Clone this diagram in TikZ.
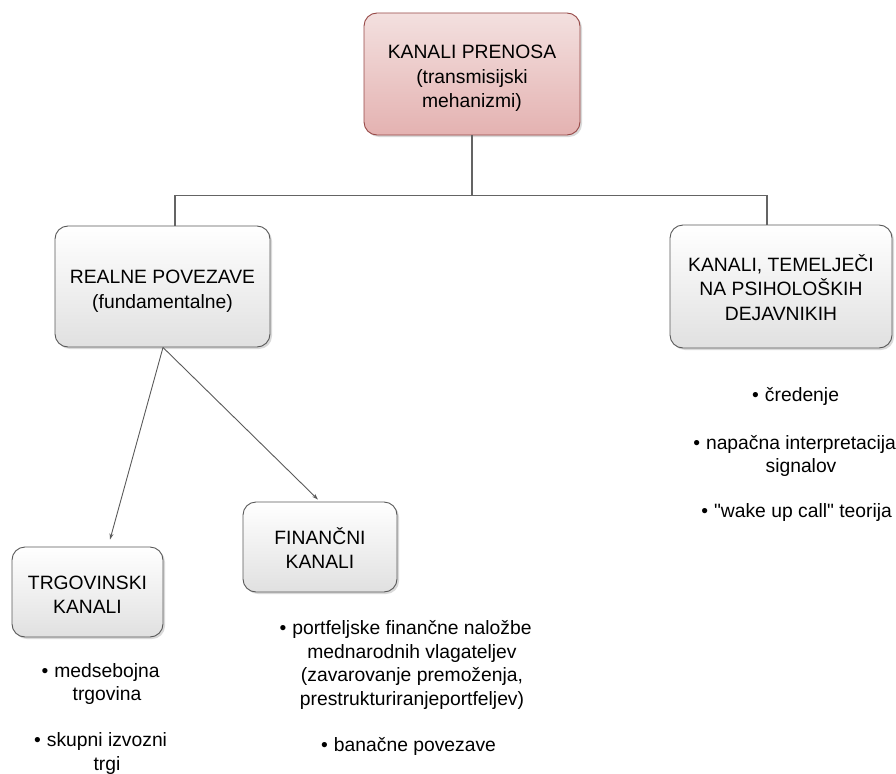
\documentclass[tikz,border=0pt]{standalone}
\usepackage{fontspec}
\setmainfont{Liberation Sans}
\usetikzlibrary{shadows,arrows.meta}
\definecolor{boxline}{RGB}{88,88,88}
\definecolor{topline}{RGB}{150,72,70}
\definecolor{toptop}{RGB}{243,224,223}
\definecolor{topbot}{RGB}{228,178,177}
\definecolor{conncol}{RGB}{100,100,100}
\newcommand\boxfont{\fontsize{19.3}{24.5}\selectfont}
\newcommand\itemfont{\fontsize{19.3}{23.5}\selectfont}
\newcommand\bul{\llap{\textbullet\hspace{6pt}}}
\newcommand\btext[1]{\raisebox{-4.5pt}[\height][\depth]{\begin{tabular}{@{}c@{}}#1\end{tabular}}}
\tikzset{
  basebox/.style={line width=0.9pt, rounded corners=13pt, align=center, font=\boxfont, inner sep=0pt,
    drop shadow={shadow xshift=2pt, shadow yshift=-2pt, opacity=0.3, fill=gray}},
  graybox/.style={basebox, draw=boxline, top color=white, bottom color=gray!24},
  pinkbox/.style={basebox, draw=topline, top color=toptop, bottom color=topbot},
  itemtext/.style={align=center, font=\itemfont, inner sep=0pt},
  conn/.style={draw=conncol, line width=1.3pt},
  arr/.style={draw=conncol!90!black, line width=0.9pt, -{Stealth[length=6pt,width=4pt]}}
}
\begin{document}
\begin{tikzpicture}[x=1pt,y=-1pt]
\useasboundingbox (0,0) rectangle (896,773);
% boxes
\node[pinkbox, minimum width=216pt, minimum height=122pt] (top) at (472,74) {\btext{KANALI PRENOSA\\(transmisijski\\mehanizmi)}};
\node[graybox, minimum width=215pt, minimum height=121pt] (realne) at (162.5,286.5) {\btext{REALNE POVEZAVE\\(fundamentalne)}};
\node[graybox, minimum width=222pt, minimum height=123pt] (psi) at (781,286.5) {\btext{KANALI, TEMELJEČI\\NA PSIHOLOŠKIH\\DEJAVNIKIH}};
\node[graybox, minimum width=151pt, minimum height=90pt] (trg) at (87.5,592) {\btext{TRGOVINSKI\\KANALI}};
\node[graybox, minimum width=154pt, minimum height=90pt] (fin) at (320,547) {\btext{FINANČNI\\KANALI}};
% connectors
\draw[conn] (top.south) -- ++(0,60) -| ([xshift=12.5pt]realne.north);
\draw[conn] (top.south) -- ++(0,60) -| ([xshift=-14pt]psi.north);
\draw[arr] ([xshift=0.5pt]realne.south) -- ([shift={(22.5pt,7pt)}]trg.north);
\draw[arr] ([xshift=0.5pt]realne.south) -- ([shift={(-2pt,2pt)}]fin.north);
% bullet texts
\node[itemtext] (l1) at (107,684) {\bul medsebojna\\trgovina};
\node[itemtext] (l2) at (107,753.5) {\bul skupni izvozni\\trgi};
\node[itemtext] (m1) at (412,665) {\bul portfeljske finančne naložbe\\mednarodnih vlagateljev\\(zavarovanje premoženja,\\prestrukturiranjeportfeljev)};
\node[itemtext] (m2) at (415,746) {\bul banačne povezave};
\node[itemtext] (r1) at (802,396) {\bul čredenje};
\node[itemtext] (r2) at (801,456) {\bul napačna interpretacija\\signalov};
\node[itemtext] (r3) at (803,513) {\bul \textquotedbl wake up call\textquotedbl{} teorija};
\end{tikzpicture}
\end{document}
